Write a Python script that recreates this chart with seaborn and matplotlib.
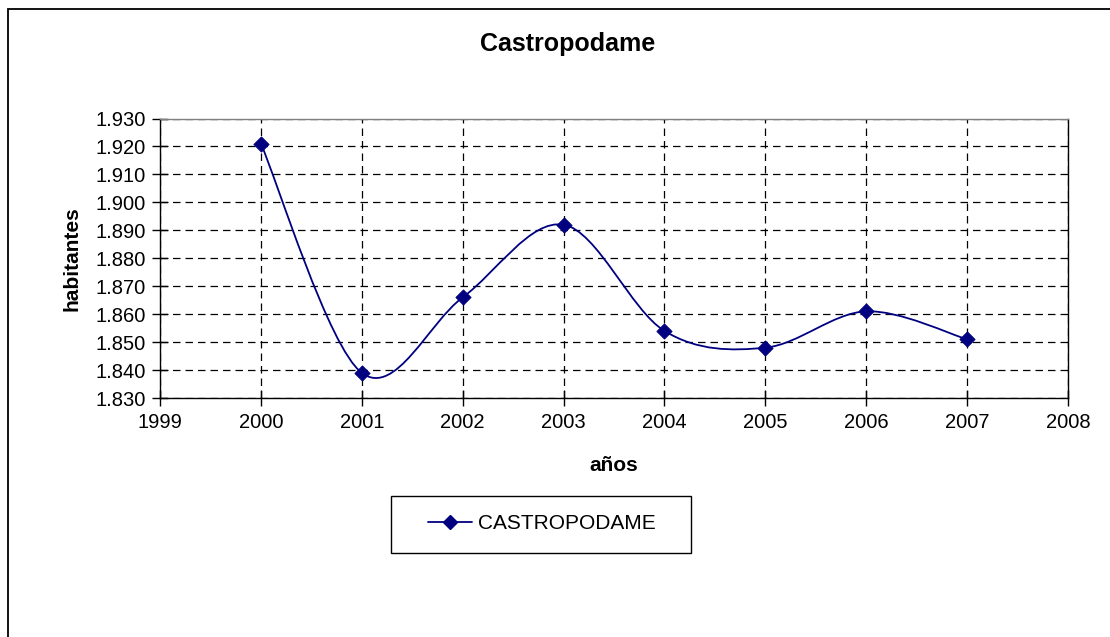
import numpy as np
import pandas as pd
import matplotlib
matplotlib.use("Agg")
import matplotlib.pyplot as plt
import seaborn as sns
from matplotlib.path import Path
from matplotlib.patches import PathPatch, Rectangle
from matplotlib.lines import Line2D
from matplotlib.ticker import FuncFormatter

years = [2000, 2001, 2002, 2003, 2004, 2005, 2006, 2007]
habitantes = [1921, 1839, 1866, 1892, 1854, 1848, 1861, 1851]
series_name = "CASTROPODAME"
title = "Castropodame"
xlabel = "años"
ylabel = "habitantes"

sns.set_theme(style="white")
plt.rcParams['font.family'] = ['Liberation Sans', 'DejaVu Sans']
plt.rcParams['text.color'] = 'black'
plt.rcParams['axes.labelcolor'] = 'black'

navy = "#000080"
fig = plt.figure(figsize=(11.1, 6.37), dpi=100)
W, H = 1110, 637
ax = fig.add_axes([160 / W, 1 - 398 / H, (1068 - 160) / W, (398 - 118.5) / H])

df = pd.DataFrame({"year": years, "hab": habitantes})

# smoothed line (Excel-style Bezier through the data points)
x = np.array(years, dtype=float)
y = np.array(habitantes, dtype=float)
verts = [(x[0], y[0])]
codes = [Path.MOVETO]
n = len(x)
for i in range(n - 1):
    p0 = np.array([x[i - 1], y[i - 1]]) if i > 0 else np.array([x[i], y[i]])
    p1 = np.array([x[i], y[i]])
    p2 = np.array([x[i + 1], y[i + 1]])
    p3 = np.array([x[i + 2], y[i + 2]]) if i + 2 < n else p2
    c1 = p1 + (p2 - p0) / 6.0
    c2 = p2 - (p3 - p1) / 6.0
    verts += [tuple(c1), tuple(c2), tuple(p2)]
    codes += [Path.CURVE4] * 3
ax.add_patch(PathPatch(Path(verts, codes), facecolor="none", edgecolor=navy, lw=1.3, zorder=3))

sns.scatterplot(data=df, x="year", y="hab", marker="D", s=60, color=navy,
                edgecolor=navy, ax=ax, zorder=4, legend=False)

ax.set_xlim(1999, 2008)
ax.set_ylim(1830, 1930)
ax.set_xticks(range(1999, 2009))
ax.set_yticks(range(1830, 1931, 10))
ax.yaxis.set_major_formatter(FuncFormatter(lambda v, p: f"{v/1000:.3f}"))
ax.grid(True, color="black", linestyle=(0, (6, 4)), linewidth=0.9)
ax.set_axisbelow(True)
for s in ["left", "bottom", "right"]:
    ax.spines[s].set_color("black")
    ax.spines[s].set_linewidth(1.0)
ax.spines["top"].set_color("#808080")
ax.spines["top"].set_linewidth(1.0)
ax.tick_params(axis="both", which="major", direction="inout", length=12, width=1,
               color="black", labelsize=14.5, labelcolor="black", bottom=True, left=True)
ax.tick_params(axis="x", pad=5)
ax.tick_params(axis="y", pad=4)
ax.set_xlabel(xlabel, fontsize=15, fontweight="bold", labelpad=17)
ax.set_ylabel(ylabel, fontsize=15, fontweight="bold", labelpad=10)

fig.text(568 / W, 1 - 44 / H, title, ha="center", va="center", fontsize=18, fontweight="bold")

# legend: box drawn as a figure rectangle, entries centred inside it
fig.patches.append(Rectangle((391 / W, 1 - 553 / H), 300 / W, 57 / H, transform=fig.transFigure,
                             fill=False, edgecolor="black", lw=1.0))
handle = Line2D([], [], color=navy, marker="D", markersize=7, lw=1.3)
leg = fig.legend([handle], [series_name], loc="center",
                 bbox_to_anchor=(542 / W, 1 - 523.5 / H), frameon=False,
                 fontsize=15, handlelength=2.1, handletextpad=0.3, borderpad=0,
                 borderaxespad=0)

# outer chart border
fig.patches.append(Rectangle((8 / W, -0.1), 1.2, 1 - 9 / H + 0.1, transform=fig.transFigure,
                             fill=False, edgecolor="black", lw=1.3))

fig.savefig("out.png", dpi=100)
